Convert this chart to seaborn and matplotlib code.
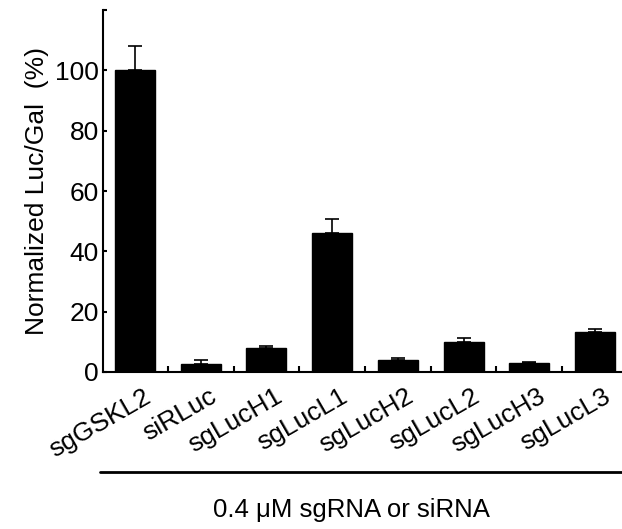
import numpy as np
import pandas as pd
import matplotlib
matplotlib.use("Agg")
import matplotlib.pyplot as plt
import matplotlib.transforms as mtransforms
import seaborn as sns

# Valeurs
samples = ["sgGSKL2", "siRLuc", "sgLucH1", "sgLucL1", "sgLucH2", "sgLucL2", "sgLucH3", "sgLucL3"]
luc_gal = [100.0, 2.6, 7.8, 46.0, 4.0, 10.0, 3.1, 13.3]
err_up = [8.0, 1.4, 0.8, 4.6, 0.8, 1.4, 0.3, 1.0]
ytick_vals = [0, 20, 40, 60, 80, 100]

df = pd.DataFrame({"sample": samples, "value": luc_gal, "err": err_up})

sns.set_style("ticks")
plt.rcParams["font.family"] = ["Liberation Sans", "DejaVu Sans"]
plt.rcParams["axes.linewidth"] = 1.5
for k in ["text.color", "axes.labelcolor", "xtick.color", "ytick.color", "axes.edgecolor"]:
    plt.rcParams[k] = "black"

fig = plt.figure(figsize=(6.22, 5.29), dpi=100)
ax = fig.add_axes([0.1656, 0.2968, 0.8344, 0.684])

sns.barplot(data=df, x="sample", y="value", order=samples, color="black",
            saturation=1, width=0.61, errorbar=None, ax=ax)
for p in ax.patches:
    p.set_edgecolor("black")

# barres d'erreur (seulement vers le haut)
ax.errorbar(np.arange(len(samples)), df["value"], yerr=[np.zeros(len(samples)), df["err"]],
            fmt="none", ecolor="black", elinewidth=1.2, capsize=4.7, capthick=1.2)

ax.set_xlim(-0.487, 7.41)
ax.set_ylim(0, 120)
sns.despine(ax=ax)

ax.set_yticks(ytick_vals + [120])
ax.set_yticklabels([str(v) for v in ytick_vals] + [""], fontsize=19)
ax.tick_params(axis="y", direction="in", length=3, width=1.5, pad=3)

ax.set_xticks(np.arange(len(samples)))
ax.set_xticklabels(samples, rotation=30, ha="right", rotation_mode="anchor", fontsize=19)
ax.tick_params(axis="x", which="major", length=0, pad=9)
ax.set_xticks(np.arange(len(samples) - 1) + 0.5, minor=True)
ax.tick_params(axis="x", which="minor", direction="in", length=4, width=1.5)
shift = mtransforms.ScaledTranslation(8 / 100, 0, fig.dpi_scale_trans)
for lab in ax.get_xticklabels():
    lab.set_transform(lab.get_transform() + shift)

ax.set_xlabel("")
ax.set_ylabel("Normalized Luc/Gal  (%)", fontsize=19, labelpad=4)

# ligne et titre sous les étiquettes
fig.add_artist(plt.Line2D([100 / 622, 1.0], [1 - 472 / 529, 1 - 472 / 529],
                          color="black", linewidth=2, transform=fig.transFigure))
fig.text(351 / 622, 1 - 510 / 529, "0.4 \u03bcM sgRNA or siRNA", fontsize=18.5,
         ha="center", va="center")

fig.savefig("out.png", dpi=100)
